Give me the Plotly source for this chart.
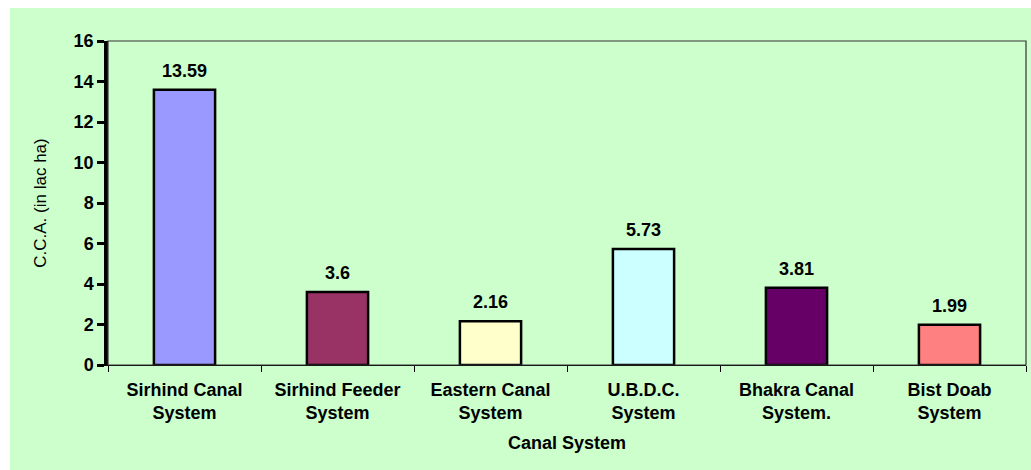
import plotly.graph_objects as go

# Culturable command area by canal system
categories = [
    "Sirhind Canal<br>System",
    "Sirhind Feeder<br>System",
    "Eastern Canal<br>System",
    "U.B.D.C.<br>System",
    "Bhakra Canal<br>System.",
    "Bist Doab<br>System",
]
cca_values = [13.59, 3.6, 2.16, 5.73, 3.81, 1.99]
bar_colors = ["#9999FF", "#993366", "#FFFFCC", "#CCFFFF", "#660066", "#FF8080"]
y_ticks = [0, 2, 4, 6, 8, 10, 12, 14, 16]

W, H = 1031, 470
ML, MR, MT, MB = 108, 5, 41, 105
PW, PH = W - ML - MR, H - MT - MB

font_family = "Liberation Sans, Arial, sans-serif"
green = "#CCFFCC"
FS = 18

fig = go.Figure(
    go.Bar(
        x=categories,
        y=cca_values,
        marker=dict(color=bar_colors, line=dict(color="#000000", width=2.5)),
        cliponaxis=False,
    )
)

# Value labels above each bar
for cat, val in zip(categories, cca_values):
    fig.add_annotation(
        x=cat, y=val, text=str(val), showarrow=False,
        yanchor="bottom", yshift=7,
        font=dict(family=font_family, size=FS, color="#000000", weight="bold"),
    )

# Chart-area background behind everything (white strip on top and left)
fig.add_shape(
    type="rect", xref="paper", yref="paper", layer="below",
    x0=(10 - ML) / PW, x1=(W - ML) / PW,
    y0=(MT + PH - H) / PH, y1=(MT + PH - 8) / PH,
    fillcolor=green, line=dict(width=0),
)
# Plot-area frame (top and right edges)
fig.add_shape(
    type="rect", xref="paper", yref="paper",
    x0=0, x1=1, y0=0, y1=1,
    line=dict(color="#333333", width=1.2),
)

fig.update_layout(
    width=W, height=H,
    margin=dict(l=ML, r=MR, t=MT, b=MB),
    paper_bgcolor="#FFFFFF",
    plot_bgcolor=green,
    bargap=0.6,
    showlegend=False,
    font=dict(family=font_family, color="#000000"),
    xaxis=dict(
        type="category",
        tickson="boundaries",
        ticks="outside", ticklen=6, tickcolor="#000000", tickwidth=1.2,
        showline=True, linecolor="#000000", linewidth=1.2,
        showgrid=False,
        ticklabelstandoff=8,
        tickfont=dict(family=font_family, size=FS, weight="bold"),
        title=dict(text="Canal System", font=dict(family=font_family, size=FS, weight="bold"), standoff=14),
    ),
    yaxis=dict(
        range=[0, 16],
        tickvals=y_ticks,
        ticks="outside", ticklen=7, tickcolor="#000000", tickwidth=3,
        showline=True, linecolor="#000000", linewidth=3.5,
        showgrid=False, zeroline=False,
        tickfont=dict(family=font_family, size=FS, weight="bold"),
        title=dict(text="C.C.A. (in lac ha)", font=dict(family=font_family, size=17), standoff=24),
    ),
)

fig.write_html("out.html")
